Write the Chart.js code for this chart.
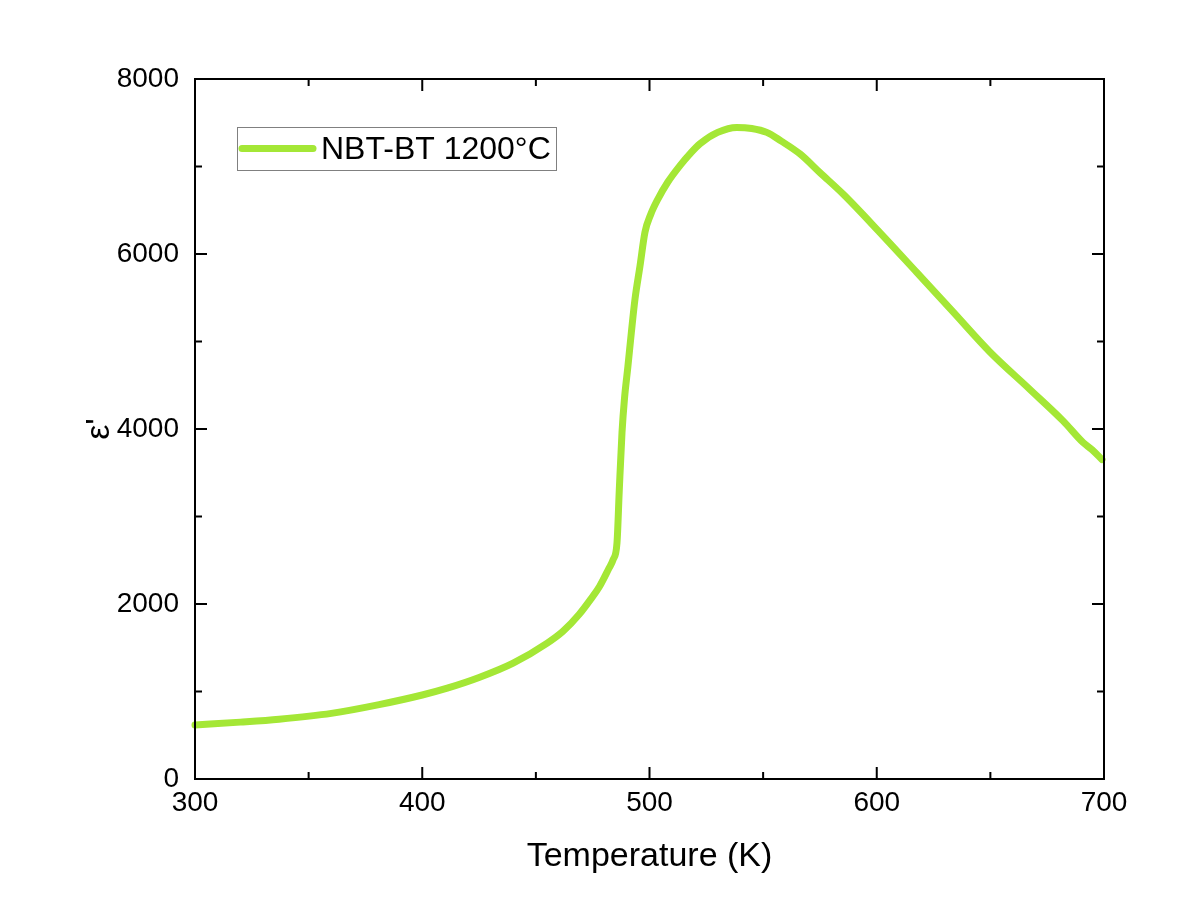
<!DOCTYPE html>
<html>
<head>
<meta charset="utf-8">
<script src="https://cdn.jsdelivr.net/npm/chart.js@4/dist/chart.umd.min.js"></script>
<style>
  html, body { margin: 0; padding: 0; background: #ffffff; }
  #wrap { width: 1200px; height: 919px; }
</style>
</head>
<body>
<div id="wrap"><canvas id="c" width="1200" height="919"></canvas></div>
<script>
// ---- data ----
const temperatureK = [300,320,337,360,381,400,411,425,440,455,462,469,474,478,482,484,485.7,486.7,487.9,489,490.5,492,493.6,495.8,498,500.5,503.7,508,513.4,518,522.2,530,538.4,545,551.6,558,566.3,575,585.4,601.4,617.6,633.7,649.8,667.4,682.1,690.8,694.7,699.1];
const epsilonReal = [618,650,683,750,850,960,1038,1160,1324,1553,1690,1880,2050,2200,2400,2506,2700,3300,3960,4350,4715,5100,5482,5860,6249,6450,6627,6820,7010,7150,7260,7390,7447,7435,7390,7290,7142,6930,6680,6245,5790,5335,4880,4452,4090,3845,3765,3651];
const seriesLabel = 'NBT-BT 1200°C';
const xTickValues = [300,400,500,600,700];
const yTickValues = [0,2000,4000,6000,8000];
const xTitle = 'Temperature (K)';
const yTitle = "ε'";

const FONT = "'Liberation Sans', Arial, sans-serif";
const LINE_COLOR = '#a4e736';

const points = temperatureK.map((t, i) => ({ x: t, y: epsilonReal[i] }));

const frameTicks = {
  id: 'frameTicks',
  afterDraw(chart) {
    const { ctx, chartArea: a, scales } = chart;
    ctx.save();
    ctx.strokeStyle = '#000';
    ctx.lineWidth = 2;
    ctx.lineCap = 'butt';
    ctx.strokeRect(a.left, a.top, a.right - a.left, a.bottom - a.top);
    const major = 12, minor = 7;
    const mids = arr => arr.slice(0, -1).map((v, i) => (v + arr[i + 1]) / 2);
    ctx.beginPath();
    const xs = scales.x, ys = scales.y;
    xTickValues.forEach(v => { const p = xs.getPixelForValue(v);
      ctx.moveTo(p, a.bottom); ctx.lineTo(p, a.bottom - major);
      ctx.moveTo(p, a.top); ctx.lineTo(p, a.top + major); });
    mids(xTickValues).forEach(v => { const p = xs.getPixelForValue(v);
      ctx.moveTo(p, a.bottom); ctx.lineTo(p, a.bottom - minor);
      ctx.moveTo(p, a.top); ctx.lineTo(p, a.top + minor); });
    yTickValues.forEach(v => { const p = ys.getPixelForValue(v);
      ctx.moveTo(a.left, p); ctx.lineTo(a.left + major, p);
      ctx.moveTo(a.right, p); ctx.lineTo(a.right - major, p); });
    mids(yTickValues).forEach(v => { const p = ys.getPixelForValue(v);
      ctx.moveTo(a.left, p); ctx.lineTo(a.left + minor, p);
      ctx.moveTo(a.right, p); ctx.lineTo(a.right - minor, p); });
    ctx.stroke();

    // legend box
    const ds = chart.data.datasets[0];
    const bx = 237, by = 127, bw = 319, bh = 43;
    ctx.fillStyle = '#fff';
    ctx.fillRect(bx, by, bw, bh);
    ctx.strokeStyle = '#808080';
    ctx.lineWidth = 1;
    ctx.strokeRect(bx + 0.5, by + 0.5, bw, bh);
    ctx.strokeStyle = ds.borderColor;
    ctx.lineWidth = 7;
    ctx.lineCap = 'round';
    ctx.beginPath();
    ctx.moveTo(242, 148.5); ctx.lineTo(313, 148.5);
    ctx.stroke();
    ctx.fillStyle = '#000';
    ctx.font = '32px ' + FONT;
    ctx.textBaseline = 'middle';
    ctx.textAlign = 'left';
    ctx.fillText(ds.label, 321, 150);
    ctx.restore();
  }
};

new Chart(document.getElementById('c'), {
  type: 'scatter',
  data: {
    datasets: [{
      label: seriesLabel,
      data: points,
      showLine: true,
      borderColor: LINE_COLOR,
      backgroundColor: LINE_COLOR,
      borderWidth: 7,
      pointRadius: 0,
      cubicInterpolationMode: 'monotone',
      borderCapStyle: 'round',
      borderJoinStyle: 'round',
      clip: false
    }]
  },
  options: {
    responsive: false,
    devicePixelRatio: 1,
    animation: false,
    layout: { padding: { left: 0, top: 79, right: 96, bottom: 0 } },
    plugins: { legend: { display: false }, tooltip: { enabled: false } },
    scales: {
      x: {
        type: 'linear', min: 300, max: 700,
        afterBuildTicks: s => { s.ticks = xTickValues.map(v => ({ value: v })); },
        afterFit: s => { s.height = 140; },
        grid: { display: false, drawTicks: false },
        border: { display: false },
        ticks: { color: '#000', font: { family: FONT, size: 28 }, padding: 7,
                 maxRotation: 0, autoSkip: false, callback: v => String(v) },
        title: { display: true, text: xTitle, color: '#000',
                 font: { family: FONT, size: 34 }, padding: { top: 0, bottom: 42 } }
      },
      y: {
        type: 'linear', min: 0, max: 8000,
        afterBuildTicks: s => { s.ticks = yTickValues.map(v => ({ value: v })); },
        afterFit: s => { s.width = 195; },
        grid: { display: false, drawTicks: false },
        border: { display: false },
        ticks: { color: '#000', font: { family: FONT, size: 28 }, padding: 16,
                 autoSkip: false, callback: v => String(v) },
        title: { display: true, text: yTitle, color: '#000',
                 font: { family: FONT, size: 34 }, padding: { top: 79, bottom: 0 } }
      }
    }
  },
  plugins: [frameTicks]
});
</script>
</body>
</html>
